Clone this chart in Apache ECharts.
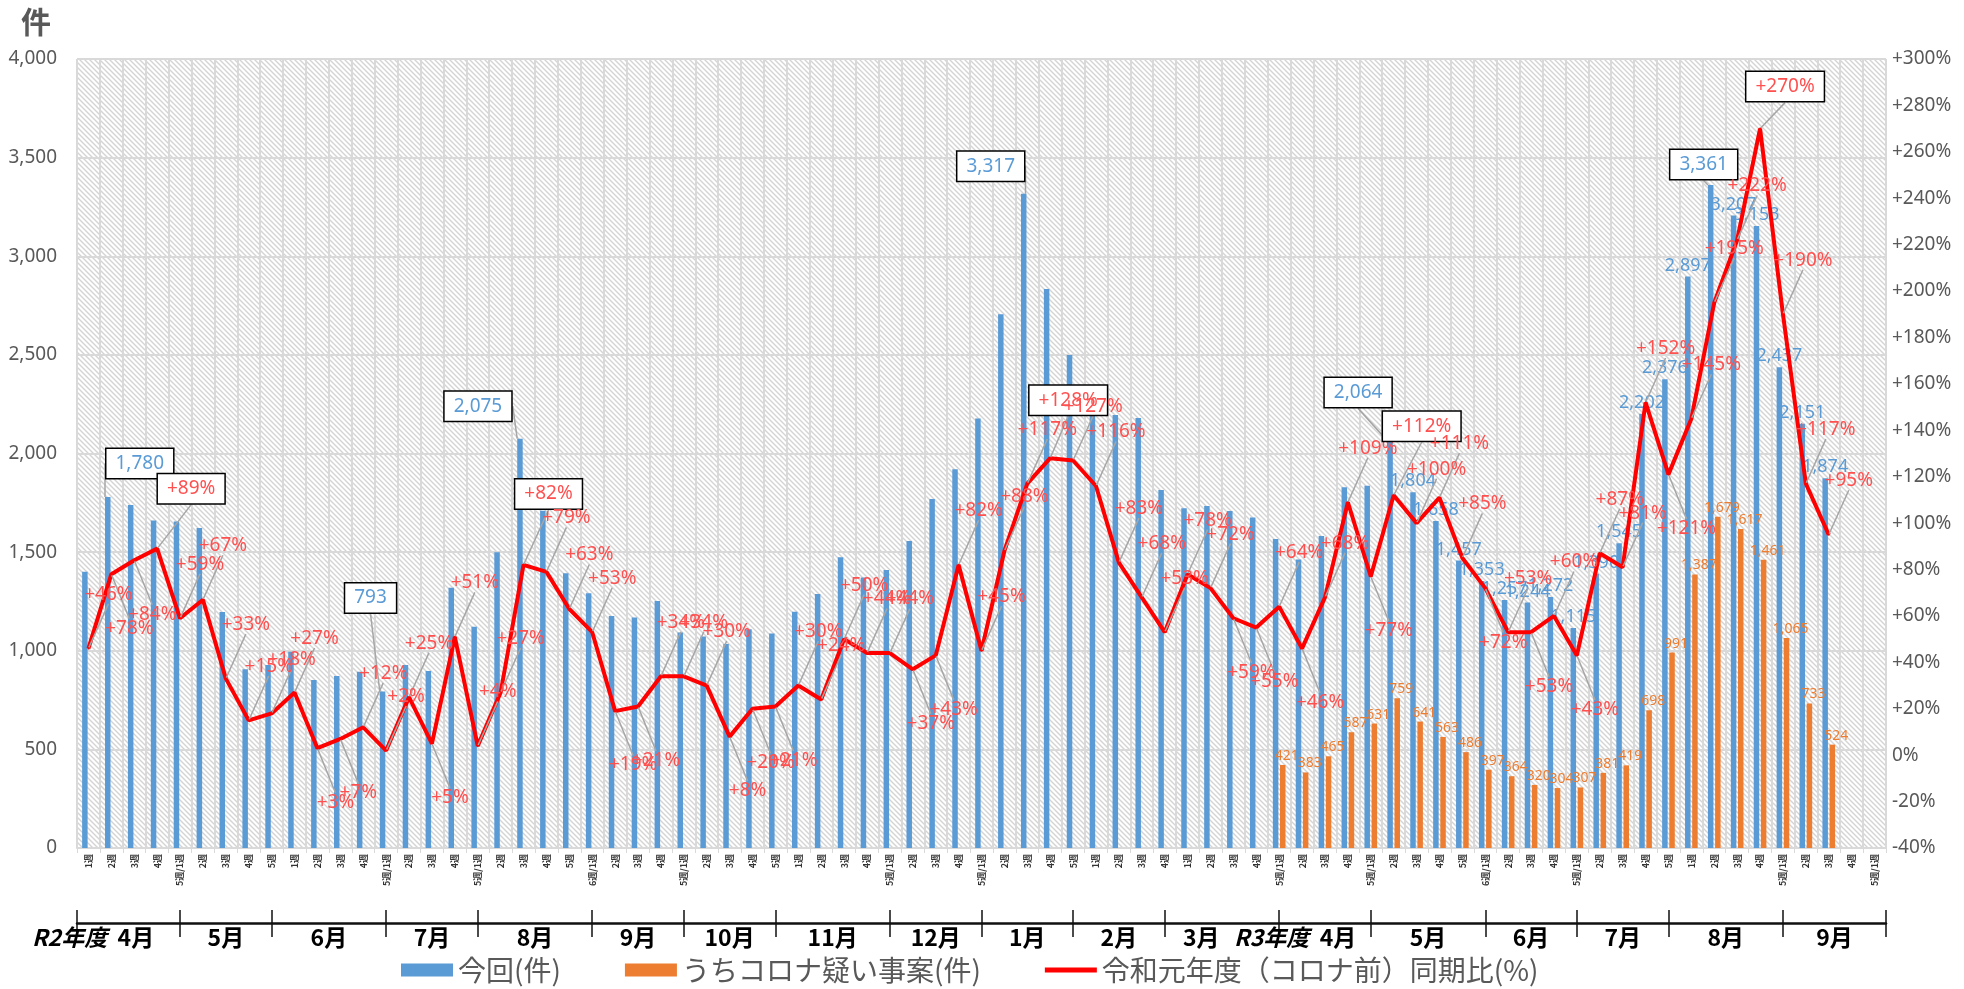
<!DOCTYPE html>
<html><head><meta charset="utf-8">
<script src="https://cdn.jsdelivr.net/npm/echarts@6/dist/echarts.min.js"></script>
<style>html,body{margin:0;padding:0;background:#fff}#c{width:1964px;height:989px}</style>
</head><body><div id="c"></div>
<script>
// ---- categories (weeks) ----
const weeks = [
  '1週','2週','3週','4週','5週/1週',
  '2週','3週','4週','5週',
  '1週','2週','3週','4週','5週/1週',
  '2週','3週','4週','5週/1週',
  '2週','3週','4週','5週','6週/1週',
  '2週','3週','4週','5週/1週',
  '2週','3週','4週','5週',
  '1週','2週','3週','4週','5週/1週',
  '2週','3週','4週','5週/1週',
  '2週','3週','4週','5週',
  '1週','2週','3週','4週',
  '1週','2週','3週','4週',
  '5週/1週','2週','3週','4週','5週/1週',
  '2週','3週','4週','5週','6週/1週',
  '2週','3週','4週','5週/1週',
  '2週','3週','4週','5週',
  '1週','2週','3週','4週','5週/1週',
  '2週','3週','4週','5週/1週'
];
// month axis: names, and the week (1-based) whose centre carries each month boundary
const monthNames = ['4月','5月','6月','7月','8月','9月','10月','11月','12月','1月','2月','3月','4月','5月','6月','7月','8月','9月'];
const monthEnds = [5, 9, 14, 18, 23, 27, 31, 36, 40, 44, 48, 53, 57, 62, 66, 70, 75];
const fiscalYears = {0: 'R2年度', 12: 'R3年度'};

// ---- series values ----
const total = [
  1400, 1780, 1739, 1660, 1655, 1622, 1197, 906, 928, 995,
  852, 872, 894, 793, 928, 897, 1320, 1122, 1499, 2075,
  1710, 1393, 1291, 1176, 1168, 1252, 1093, 1072, 1034, 1109,
  1088, 1198, 1288, 1474, 1371, 1409, 1556, 1769, 1920, 2178,
  2706, 3317, 2834, 2500, 2250, 2195, 2180, 1815, 1722, 1734,
  1709, 1676, 1567, 1463, 1582, 1829, 1837, 2064, 1804, 1658,
  1457, 1353, 1257, 1244, 1272, 1115, 1390, 1545, 2202, 2376,
  2897, 3361, 3207, 3153, 2437, 2151, 1874
];
const covidStart = 53; // first week (1-based) with a コロナ疑い value
const covid = [421, 383, 465, 587, 631, 759, 641, 563, 486, 397, 364, 320, 304, 307, 381, 419, 698, 991, 1387, 1679, 1617, 1461, 1065, 733, 524];
const ratio = [
  46, 78, 84, 89, 59, 67, 33, 15, 18, 27,
  3, 7, 12, 2, 25, 5, 51, 4, 27, 82,
  79, 63, 53, 19, 21, 34, 34, 30, 8, 20,
  21, 30, 24, 50, 44, 44, 37, 43, 82, 45,
  88, 117, 128, 127, 116, 83, 68, 53, 78, 72,
  59, 55, 64, 46, 68, 109, 77, 112, 100, 111,
  85, 72, 53, 53, 60, 43, 87, 81, 152, 121,
  145, 195, 222, 270, 190, 117, 95
];
const leftTicks = {min: 0, max: 4000, step: 500};
const rightTicks = {min: -40, max: 300, step: 20};

// which labels are boxed / shown
const blueBoxed = [2, 14, 20, 42, 58, 72];
const redBoxed = [4, 20, 43, 58, 74];
const blueLabelFrom = 59;
const lineLabelSide = 'udduuuuuuu' + 'dduuuduuuu' + 'uuudduuudd' + 'duuuuudduu' + 'uuuuuuuuuu' + 'dduduuduuu' + 'udududuuud' + 'uuuuuuu';

// ---- label layout (pixel nudges for the boxed call-outs) ----
const blueBoxNudge = {2: [32, -17], 14: [-12, -77], 20: [-42, -16], 42: [-33, -11], 58: [-32, -32], 72: [-7, -4]};
const redBoxNudge = {4: [34, -60], 20: [25, -71], 43: [18, -58], 58: [28, -69], 74: [25, -42]};

// ---- build ----
const N = weeks.length;
const fmt = v => String(v).replace(/\B(?=(\d{3})+(?!\d))/g, ',');
const boxStyle = {backgroundColor: '#fff', borderColor: '#000', borderWidth: 1.5, padding: [5, 9], fontSize: 19};

const blueData = weeks.map((w, i) => {
  const n = i + 1;
  const v = i < total.length ? total[i] : null;
  if (blueBoxed.includes(n)) return {value: v, label: Object.assign({show: true}, boxStyle), labelLine: {show: true}};
  if (n >= blueLabelFrom && v != null) return {value: v, label: {show: true}};
  return {value: v};
});
const orangeData = weeks.map((w, i) => {
  const k = i - (covidStart - 1);
  return (k >= 0 && k < covid.length) ? covid[k] : null;
});
const lineData = weeks.map((w, i) => {
  const n = i + 1;
  const v = i < ratio.length ? ratio[i] : null;
  if (redBoxed.includes(n)) return {value: v, label: Object.assign({}, boxStyle)};
  return {value: v};
});

// month axis ticks / labels
const seps = [0].concat(monthEnds.map(n => n - 0.5), [N]);
const monthLabelVals = [];
const monthLabelText = {};
for (let k = 0; k < monthNames.length; k++) {
  let c = (seps[k] + seps[k + 1]) / 2;
  let t = monthNames[k];
  if (fiscalYears[k]) { c = seps[k] + 0.7; t = '{fy|' + fiscalYears[k] + '}  ' + t; }
  if (fiscalYears[k + 1]) c -= 0.9;
  monthLabelVals.push(c);
  monthLabelText[c.toFixed(2)] = t;
}

// hatch pattern
const pc = document.createElement('canvas');
pc.width = 5; pc.height = 5;
const g = pc.getContext('2d');
g.fillStyle = '#ffffff'; g.fillRect(0, 0, 5, 5);
g.strokeStyle = '#d4d4d4'; g.lineWidth = 1.4;
g.beginPath();
g.moveTo(-1, -1); g.lineTo(6, 6);
g.moveTo(-1, 4); g.lineTo(1, 6);
g.moveTo(4, -1); g.lineTo(6, 1);
g.stroke();

const NUMF = "'Noto Sans', 'Liberation Sans', sans-serif";
const JPF = "'Noto Sans CJK JP', sans-serif";
const gray = '#595959';

const chart = echarts.init(document.getElementById('c'), null, {renderer: 'canvas'});
chart.setOption({
  animation: false,
  backgroundColor: '#fff',
  title: {text: '件', left: 16, top: 2, textStyle: {fontSize: 30, fontWeight: 'bold', color: gray, fontFamily: JPF}},
  grid: {left: 77, right: 78, top: 59, bottom: 141, show: true, borderWidth: 0,
         backgroundColor: {image: pc, repeat: 'repeat'}},
  legend: {
    top: 951, left: 396, itemWidth: 52, itemHeight: 13, itemGap: 64, selectedMode: false,
    textStyle: {fontSize: 28, color: gray, fontFamily: JPF},
    data: [
      {name: '今回(件)', icon: 'rect'},
      {name: 'うちコロナ疑い事案(件)', icon: 'rect'},
      {name: '令和元年度（コロナ前）同期比(%)', icon: 'path://M0 0H60V6H0Z'}
    ]
  },
  xAxis: [
    {
      type: 'category', data: weeks, position: 'bottom',
      axisLine: {onZero: false, lineStyle: {color: '#d9d9d9', width: 2}},
      axisTick: {show: true, interval: 0, length: 5, lineStyle: {color: '#d9d9d9'}},
      splitLine: {show: true, interval: 0, lineStyle: {color: '#d9d9d9', width: 2}},
      axisLabel: {interval: 0, rotate: 90, fontSize: 9, fontWeight: 'bold', color: '#333', margin: 6, fontFamily: JPF}
    },
    {
      type: 'value', min: 0, max: N, position: 'bottom', offset: 75,
      axisLine: {show: true, onZero: false, lineStyle: {color: '#111', width: 2.5}},
      axisTick: {show: true, customValues: seps, length: 14, lineStyle: {color: '#111', width: 1.5}},
      splitLine: {show: false},
      axisLabel: {
        customValues: monthLabelVals, margin: 3, fontSize: 23, fontWeight: 'bold', color: '#000', fontFamily: JPF,
        formatter: v => monthLabelText[Number(v).toFixed(2)] || '',
        rich: {fy: {fontSize: 23, fontWeight: 'bold', fontStyle: 'italic', color: '#000', fontFamily: JPF}}
      }
    },
    {
      type: 'value', min: 0, max: N, position: 'bottom', offset: 75,
      axisLine: {show: false, onZero: false},
      axisTick: {show: true, inside: true, customValues: seps, length: 13, lineStyle: {color: '#111', width: 1.5}},
      splitLine: {show: false},
      axisLabel: {show: false}
    }
  ],
  yAxis: [
    {
      type: 'value', min: leftTicks.min, max: leftTicks.max, interval: leftTicks.step,
      axisLine: {show: false}, axisTick: {show: false},
      splitLine: {show: true, lineStyle: {color: '#d9d9d9', width: 2}},
      axisLabel: {fontSize: 19, color: gray, margin: 20, fontFamily: NUMF, formatter: v => fmt(v)}
    },
    {
      type: 'value', min: rightTicks.min, max: rightTicks.max, interval: rightTicks.step,
      axisLine: {show: false}, axisTick: {show: false}, splitLine: {show: false},
      axisLabel: {fontSize: 19, color: gray, margin: 6, fontFamily: NUMF, formatter: v => (v > 0 ? '+' : '') + v + '%'}
    }
  ],
  series: [
    {
      name: '今回(件)', type: 'bar', data: blueData, barWidth: 5.5, barGap: '30%',
      itemStyle: {color: '#5b9bd5'},
      label: {show: false, position: 'top', distance: 2, offset: [5, 0], color: '#5b9bd5', fontSize: 18, fontFamily: NUMF,
              formatter: p => fmt(p.value)},
      labelLine: {show: false, lineStyle: {color: '#a6a6a6', width: 1.5}},
      labelLayout: p => {
        const b = blueBoxNudge[p.dataIndex + 1];
        return b ? {dx: b[0], dy: b[1]} : {};
      },
      z: 2
    },
    {
      name: 'うちコロナ疑い事案(件)', type: 'bar', data: orangeData, barWidth: 5.5,
      itemStyle: {color: '#ed7d31'},
      label: {show: true, position: 'top', distance: 2, offset: [4, 0], color: '#ed7d31', fontSize: 14, fontFamily: NUMF,
              formatter: p => p.value == null ? '' : fmt(p.value)},
      z: 2
    },
    {
      name: '令和元年度（コロナ前）同期比(%)', type: 'line', yAxisIndex: 1, data: lineData,
      symbol: 'circle', symbolSize: 2, showSymbol: true, connectNulls: false,
      lineStyle: {color: '#ff0000', width: 4}, itemStyle: {color: '#ff0000'},
      label: {show: true, position: 'inside', color: '#ff5050', fontSize: 19, fontFamily: NUMF,
              formatter: p => p.value == null ? '' : '+' + p.value + '%'},
      labelLine: {show: true, lineStyle: {color: '#a6a6a6', width: 1.5}},
      labelLayout: p => {
        const n = p.dataIndex + 1;
        if (n > ratio.length) return {};
        const b = redBoxNudge[n];
        if (b) return {dx: b[0], dy: b[1]};
        return lineLabelSide[n - 1] === 'd' ? {dx: 18, dy: 54} : {dx: 20, dy: -54};
      },
      z: 5
    }
  ]
});
</script></body></html>
